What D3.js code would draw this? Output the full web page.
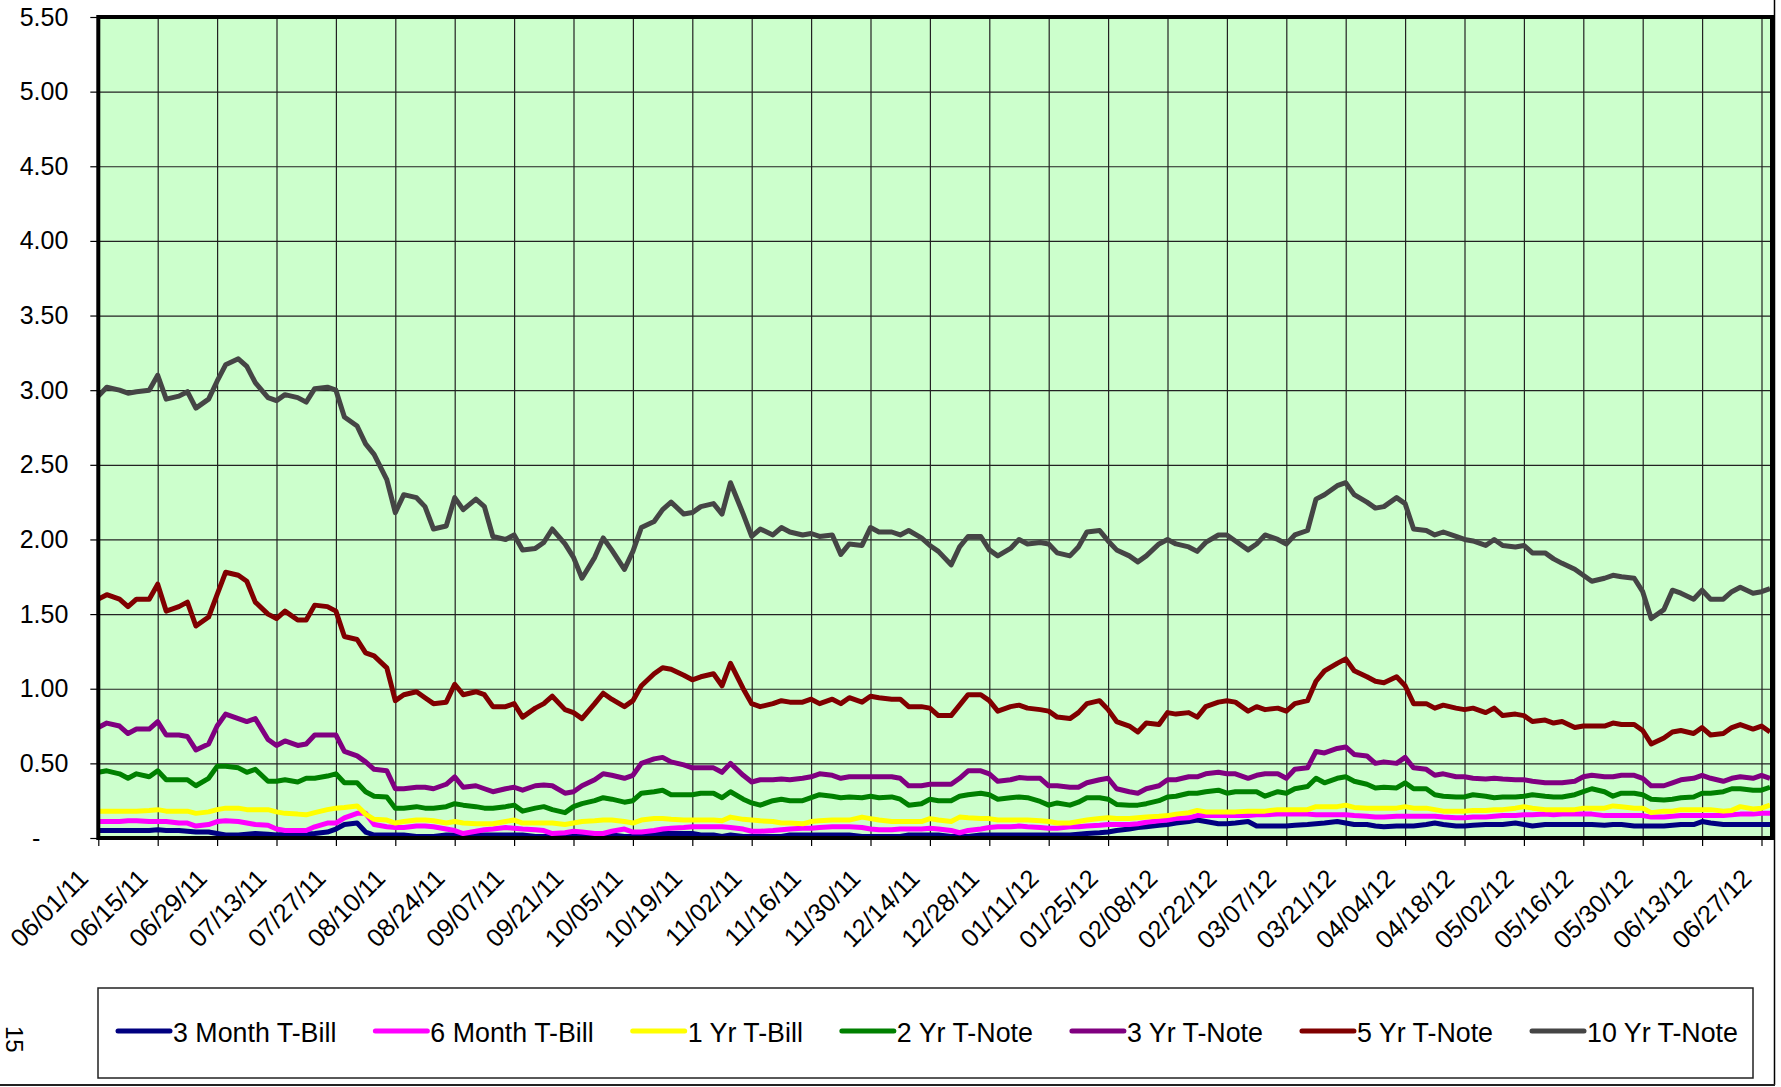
<!DOCTYPE html>
<html>
<head>
<meta charset="utf-8">
<script src="https://cdn.jsdelivr.net/npm/d3@7"></script>
<style>
  body { margin: 0; background: #fff; }
  text { font-family: "Liberation Sans", Arial, sans-serif; fill: #000; }
</style>
</head>
<body>
<svg id="chart" width="1781" height="1087"></svg>
<script>
// sample dates (Mon / Wed / Fri)
const sampleDates = [
  "06/01/11","06/03/11","06/06/11","06/08/11","06/10/11","06/13/11",
  "06/15/11","06/17/11","06/20/11","06/22/11","06/24/11","06/27/11",
  "06/29/11","07/01/11","07/04/11","07/06/11","07/08/11","07/11/11",
  "07/13/11","07/15/11","07/18/11","07/20/11","07/22/11","07/25/11",
  "07/27/11","07/29/11","08/01/11","08/03/11","08/05/11","08/08/11",
  "08/10/11","08/12/11","08/15/11","08/17/11","08/19/11","08/22/11",
  "08/24/11","08/26/11","08/29/11","08/31/11","09/02/11","09/05/11",
  "09/07/11","09/09/11","09/12/11","09/14/11","09/16/11","09/19/11",
  "09/21/11","09/23/11","09/26/11","09/28/11","09/30/11","10/03/11",
  "10/05/11","10/07/11","10/10/11","10/12/11","10/14/11","10/17/11",
  "10/19/11","10/21/11","10/24/11","10/26/11","10/28/11","10/31/11",
  "11/02/11","11/04/11","11/07/11","11/09/11","11/11/11","11/14/11",
  "11/16/11","11/18/11","11/21/11","11/23/11","11/25/11","11/28/11",
  "11/30/11","12/02/11","12/05/11","12/07/11","12/09/11","12/12/11",
  "12/14/11","12/16/11","12/19/11","12/21/11","12/23/11","12/26/11",
  "12/28/11","12/30/11","01/02/12","01/04/12","01/06/12","01/09/12",
  "01/11/12","01/13/12","01/16/12","01/18/12","01/20/12","01/23/12",
  "01/25/12","01/27/12","01/30/12","02/01/12","02/03/12","02/06/12",
  "02/08/12","02/10/12","02/13/12","02/15/12","02/17/12","02/20/12",
  "02/22/12","02/24/12","02/27/12","02/29/12","03/02/12","03/05/12",
  "03/07/12","03/09/12","03/12/12","03/14/12","03/16/12","03/19/12",
  "03/21/12","03/23/12","03/26/12","03/28/12","03/30/12","04/02/12",
  "04/04/12","04/06/12","04/09/12","04/11/12","04/13/12","04/16/12",
  "04/18/12","04/20/12","04/23/12","04/25/12","04/27/12","04/30/12",
  "05/02/12","05/04/12","05/07/12","05/09/12","05/11/12","05/14/12",
  "05/16/12","05/18/12","05/21/12","05/23/12","05/25/12","05/28/12",
  "05/30/12","06/01/12","06/04/12","06/06/12","06/08/12","06/11/12",
  "06/13/12","06/15/12","06/18/12","06/20/12","06/22/12","06/25/12",
  "06/27/12","06/29/12"
];

const tickLabels = [
  "06/01/11","06/15/11","06/29/11","07/13/11","07/27/11","08/10/11","08/24/11",
  "09/07/11","09/21/11","10/05/11","10/19/11","11/02/11","11/16/11","11/30/11",
  "12/14/11","12/28/11","01/11/12","01/25/12","02/08/12","02/22/12","03/07/12",
  "03/21/12","04/04/12","04/18/12","05/02/12","05/16/12","05/30/12","06/13/12",
  "06/27/12"
];

const yTickValues = [0, 0.5, 1, 1.5, 2, 2.5, 3, 3.5, 4, 4.5, 5, 5.5];

const seriesNames = ["3 Month T-Bill", "6 Month T-Bill", "1 Yr T-Bill", "2 Yr T-Note",
                     "3 Yr T-Note", "5 Yr T-Note", "10 Yr T-Note"];
const seriesColors = ["#000080", "#FF00FF", "#FFFF00", "#008000", "#800080", "#800000", "#454545"];

const bill3m = [
  0.05,0.05,0.05,0.05,0.05,0.05, 0.055,0.05,0.05,0.045,0.04,0.04,
  0.03,0.02,0.02,0.025,0.03,0.025, 0.02,0.025,0.03,0.025,0.03,0.04,
  0.06,0.09,0.10,0.04,0.02,0.02, 0.02,0.02,0.01,0.01,0.01,0.02,
  0.02,0.02,0.02,0.02,0.02,0.02, 0.02,0.02,0.01,0.01,0.01,0.01,
  0.01,0.01,0.01,0.01,0.02,0.01, 0.01,0.02,0.02,0.03,0.03,0.03,
  0.03,0.02,0.02,0.01,0.02,0.01, 0.01,0.01,0.01,0.01,0.02,0.02,
  0.02,0.02,0.02,0.02,0.02,0.01, 0.01,0.01,0.01,0.01,0.02,0.02,
  0.02,0.02,0.01,0.01,0.01,0.02, 0.02,0.02,0.02,0.02,0.02,0.02,
  0.02,0.02,0.02,0.025,0.03,0.035, 0.04,0.05,0.06,0.07,0.075,0.085,
  0.09,0.10,0.11,0.12,0.11,0.095, 0.095,0.10,0.11,0.08,0.08,0.08,
  0.08,0.085,0.09,0.095,0.10,0.11, 0.10,0.09,0.09,0.08,0.075,0.08,
  0.08,0.08,0.09,0.10,0.09,0.08, 0.08,0.085,0.09,0.09,0.09,0.10,
  0.09,0.08,0.09,0.09,0.09,0.09, 0.09,0.09,0.085,0.09,0.09,0.08,
  0.08,0.08,0.08,0.085,0.09,0.09, 0.11,0.10,0.09,0.09,0.09,0.09,
  0.09,0.09
];

const bill6m = [
  0.11,0.11,0.11,0.115,0.115,0.11, 0.11,0.11,0.10,0.10,0.08,0.09,
  0.11,0.115,0.11,0.10,0.09,0.085, 0.06,0.05,0.05,0.05,0.075,0.10,
  0.10,0.135,0.165,0.165,0.09,0.075, 0.07,0.07,0.08,0.08,0.075,0.06,
  0.05,0.03,0.045,0.055,0.06,0.07, 0.065,0.06,0.055,0.05,0.03,0.035,
  0.045,0.04,0.03,0.03,0.045,0.06, 0.04,0.04,0.05,0.06,0.065,0.07,
  0.075,0.075,0.075,0.075,0.07,0.06, 0.045,0.045,0.05,0.055,0.06,0.065,
  0.065,0.07,0.075,0.075,0.075,0.07, 0.06,0.055,0.055,0.06,0.06,0.06,
  0.065,0.06,0.05,0.035,0.05,0.06, 0.07,0.075,0.075,0.08,0.075,0.07,
  0.065,0.065,0.075,0.075,0.08,0.085, 0.09,0.09,0.09,0.095,0.105,0.115,
  0.12,0.13,0.135,0.15,0.15,0.15, 0.15,0.15,0.15,0.155,0.155,0.16,
  0.16,0.16,0.16,0.155,0.155,0.155, 0.155,0.15,0.145,0.14,0.14,0.145,
  0.145,0.145,0.145,0.145,0.14,0.135, 0.135,0.14,0.14,0.145,0.15,0.15,
  0.155,0.155,0.16,0.155,0.16,0.16, 0.16,0.16,0.15,0.15,0.15,0.15,
  0.15,0.14,0.14,0.145,0.15,0.15, 0.15,0.15,0.15,0.155,0.16,0.16,
  0.165,0.165
];

const bill1y = [
  0.18,0.18,0.18,0.18,0.18,0.185, 0.19,0.18,0.18,0.18,0.165,0.175,
  0.19,0.20,0.20,0.19,0.19,0.19, 0.175,0.165,0.16,0.155,0.17,0.19,
  0.20,0.205,0.215,0.16,0.125,0.12, 0.10,0.11,0.12,0.12,0.115,0.10,
  0.11,0.10,0.095,0.095,0.095,0.11, 0.12,0.10,0.10,0.10,0.10,0.09,
  0.10,0.11,0.115,0.12,0.12,0.11, 0.10,0.12,0.13,0.13,0.125,0.12,
  0.12,0.12,0.12,0.115,0.14,0.125, 0.12,0.115,0.11,0.10,0.10,0.095,
  0.11,0.115,0.12,0.12,0.12,0.14, 0.13,0.12,0.11,0.11,0.11,0.11,
  0.13,0.12,0.11,0.14,0.135,0.13, 0.13,0.12,0.12,0.12,0.12,0.115,
  0.11,0.10,0.10,0.11,0.12,0.13, 0.135,0.13,0.13,0.135,0.14,0.145,
  0.15,0.16,0.17,0.185,0.175,0.175, 0.175,0.175,0.18,0.18,0.18,0.19,
  0.19,0.19,0.19,0.21,0.21,0.21, 0.22,0.205,0.20,0.20,0.20,0.20,
  0.21,0.20,0.20,0.19,0.18,0.18, 0.18,0.185,0.185,0.19,0.19,0.20,
  0.21,0.20,0.19,0.19,0.19,0.19, 0.20,0.20,0.20,0.215,0.21,0.20,
  0.20,0.17,0.18,0.18,0.19,0.19, 0.19,0.19,0.18,0.185,0.21,0.195,
  0.20,0.22
];

const note2y = [
  0.44,0.45,0.43,0.40,0.43,0.41, 0.45,0.39,0.39,0.39,0.35,0.40,
  0.48,0.48,0.47,0.44,0.46,0.38, 0.38,0.39,0.375,0.40,0.40,0.415,
  0.43,0.37,0.37,0.31,0.28,0.275, 0.20,0.20,0.21,0.20,0.20,0.21,
  0.23,0.22,0.21,0.20,0.20,0.21, 0.22,0.18,0.20,0.21,0.19,0.17,
  0.21,0.23,0.25,0.27,0.26,0.24, 0.25,0.30,0.31,0.32,0.29,0.29,
  0.29,0.30,0.30,0.27,0.31,0.26, 0.235,0.22,0.25,0.26,0.25,0.25,
  0.27,0.29,0.28,0.27,0.275,0.27, 0.28,0.27,0.275,0.26,0.22,0.23,
  0.26,0.25,0.25,0.28,0.29,0.30, 0.29,0.26,0.27,0.275,0.27,0.245,
  0.22,0.235,0.22,0.24,0.27,0.27, 0.26,0.225,0.22,0.22,0.23,0.25,
  0.275,0.28,0.30,0.30,0.31,0.32, 0.30,0.31,0.31,0.31,0.28,0.31,
  0.30,0.33,0.345,0.40,0.37,0.40, 0.41,0.38,0.36,0.335,0.34,0.335,
  0.37,0.33,0.33,0.29,0.28,0.275, 0.275,0.29,0.28,0.27,0.275,0.275,
  0.28,0.29,0.28,0.275,0.275,0.29, 0.31,0.33,0.31,0.28,0.30,0.30,
  0.29,0.26,0.255,0.26,0.27,0.275, 0.30,0.30,0.31,0.33,0.33,0.32,
  0.32,0.34
];

const note3y = [
  0.74,0.77,0.75,0.70,0.73,0.73, 0.78,0.69,0.69,0.68,0.59,0.63,
  0.75,0.83,0.80,0.78,0.80,0.66, 0.62,0.65,0.62,0.63,0.69,0.69,
  0.69,0.58,0.55,0.51,0.46,0.45, 0.33,0.33,0.34,0.34,0.33,0.36,
  0.41,0.34,0.35,0.33,0.31,0.33, 0.34,0.32,0.35,0.355,0.35,0.30,
  0.31,0.35,0.39,0.43,0.42,0.40, 0.42,0.50,0.53,0.54,0.51,0.49,
  0.47,0.47,0.47,0.44,0.50,0.42, 0.375,0.39,0.39,0.395,0.39,0.40,
  0.41,0.43,0.42,0.40,0.41,0.41, 0.41,0.41,0.41,0.40,0.35,0.35,
  0.36,0.36,0.36,0.40,0.45,0.45, 0.43,0.38,0.39,0.405,0.40,0.40,
  0.35,0.35,0.34,0.34,0.37,0.39, 0.40,0.33,0.31,0.30,0.33,0.35,
  0.39,0.39,0.41,0.41,0.43,0.44, 0.43,0.43,0.40,0.42,0.43,0.43,
  0.40,0.46,0.47,0.58,0.57,0.60, 0.61,0.56,0.55,0.50,0.51,0.50,
  0.54,0.47,0.46,0.42,0.43,0.41, 0.41,0.40,0.395,0.40,0.395,0.39,
  0.39,0.38,0.37,0.37,0.37,0.38, 0.41,0.42,0.41,0.41,0.42,0.42,
  0.40,0.35,0.35,0.37,0.39,0.40, 0.42,0.40,0.38,0.40,0.41,0.40,
  0.42,0.40
];

const note5y = [
  1.60,1.63,1.60,1.55,1.60,1.60, 1.70,1.52,1.55,1.58,1.42,1.48,
  1.63,1.78,1.76,1.72,1.58,1.50, 1.47,1.52,1.46,1.46,1.56,1.55,
  1.52,1.35,1.33,1.24,1.22,1.14, 0.92,0.96,0.98,0.94,0.90,0.91,
  1.03,0.96,0.98,0.96,0.88,0.88, 0.90,0.81,0.87,0.90,0.95,0.86,
  0.84,0.80,0.90,0.97,0.93,0.88, 0.92,1.02,1.10,1.14,1.13,1.09,
  1.06,1.08,1.10,1.02,1.17,1.00, 0.90,0.88,0.90,0.92,0.91,0.91,
  0.93,0.90,0.93,0.90,0.94,0.91, 0.95,0.94,0.93,0.93,0.88,0.88,
  0.87,0.82,0.82,0.89,0.96,0.96, 0.92,0.85,0.88,0.89,0.87,0.86,
  0.85,0.81,0.80,0.84,0.90,0.92, 0.86,0.78,0.75,0.71,0.77,0.76,
  0.84,0.83,0.84,0.81,0.88,0.91, 0.92,0.91,0.85,0.88,0.86,0.87,
  0.85,0.90,0.92,1.05,1.12,1.17, 1.20,1.12,1.08,1.05,1.04,1.08,
  1.02,0.90,0.90,0.87,0.89,0.87, 0.86,0.87,0.84,0.87,0.82,0.83,
  0.82,0.78,0.79,0.77,0.78,0.74, 0.75,0.75,0.75,0.77,0.76,0.76,
  0.72,0.63,0.67,0.71,0.72,0.70, 0.74,0.69,0.70,0.74,0.76,0.73,
  0.75,0.71
];

const note10y = [
  2.96,3.02,3.00,2.98,2.99,3.00, 3.10,2.94,2.96,2.99,2.88,2.94,
  3.06,3.17,3.21,3.16,3.05,2.95, 2.93,2.97,2.95,2.92,3.01,3.02,
  3.00,2.82,2.76,2.64,2.57,2.40, 2.18,2.30,2.28,2.22,2.07,2.09,
  2.28,2.20,2.27,2.22,2.02,2.00, 2.03,1.93,1.94,1.98,2.07,1.97,
  1.88,1.74,1.88,2.01,1.93,1.80, 1.92,2.08,2.12,2.20,2.25,2.17,
  2.18,2.22,2.24,2.17,2.38,2.17, 2.02,2.07,2.03,2.08,2.05,2.03,
  2.04,2.02,2.03,1.90,1.97,1.96, 2.08,2.05,2.05,2.03,2.06,2.01,
  1.96,1.92,1.83,1.95,2.02,2.02, 1.93,1.89,1.94,2.00,1.97,1.98,
  1.97,1.91,1.89,1.95,2.05,2.06, 1.99,1.93,1.89,1.85,1.89,1.97,
  2.00,1.97,1.95,1.92,1.98,2.03, 2.03,1.99,1.93,1.97,2.03,2.00,
  1.97,2.03,2.06,2.27,2.30,2.36, 2.38,2.30,2.25,2.21,2.22,2.28,
  2.24,2.07,2.06,2.03,2.05,2.02, 2.00,1.99,1.96,2.00,1.96,1.95,
  1.96,1.91,1.91,1.87,1.84,1.80, 1.76,1.72,1.74,1.76,1.75,1.74,
  1.65,1.47,1.53,1.66,1.64,1.60, 1.66,1.60,1.60,1.65,1.68,1.64,
  1.65,1.67
];

const seriesValues = [bill3m, bill6m, bill1y, note2y, note3y, note5y, note10y];

const parseDate = d3.utcParse("%m/%d/%y");
const dates = sampleDates.map(parseDate);

const svg = d3.select("#chart");
const width = 1781, height = 1087;
const plot = { left: 98.3, right: 1772, top: 17, bottom: 838 };

const x = d3.scaleUtc()
  .domain([parseDate("06/01/11"), parseDate("06/27/12")])
  .range([98.3, 1761.5]);
const y = d3.scaleLinear().domain([0, 5.5]).range([plot.bottom, plot.top]);

svg.append("rect").attr("width", width).attr("height", height).attr("fill", "#fff");

// plot area
svg.append("rect")
  .attr("x", plot.left).attr("y", plot.top)
  .attr("width", plot.right - plot.left).attr("height", plot.bottom - plot.top)
  .attr("fill", "#CCFFCC");

// horizontal grid
svg.append("g")
  .attr("transform", `translate(${plot.left},0)`)
  .call(d3.axisLeft(y).tickValues(yTickValues).tickSize(-(plot.right - plot.left)).tickFormat(""))
  .call(g => g.select(".domain").remove())
  .selectAll("line").attr("stroke", "#222").attr("stroke-width", 1.2);

// vertical grid
const tickDates = tickLabels.map(parseDate);
svg.append("g")
  .attr("transform", `translate(0,${plot.bottom})`)
  .call(d3.axisBottom(x).tickValues(tickDates).tickSize(-(plot.bottom - plot.top)).tickFormat(""))
  .call(g => g.select(".domain").remove())
  .selectAll("line").attr("stroke", "#222").attr("stroke-width", 1.2);

// y axis
const yAxis = svg.append("g")
  .attr("transform", `translate(${plot.left},0)`)
  .call(d3.axisLeft(y).tickValues(yTickValues).tickSize(8).tickPadding(22)
    .tickFormat(d => d === 0 ? "-" : d3.format(".2f")(d)));
yAxis.select(".domain").remove();
yAxis.selectAll("line").attr("stroke", "#000").attr("stroke-width", 1.2);
yAxis.selectAll("text")
  .attr("font-size", 25)
  .attr("font-family", "Liberation Sans, Arial, sans-serif")
  .attr("dx", d => d === 0 ? -28 : 0);

// x axis
const xAxis = svg.append("g")
  .attr("transform", `translate(0,${plot.bottom})`)
  .call(d3.axisBottom(x).tickValues(tickDates).tickSize(8)
    .tickFormat(d3.utcFormat("%m/%d/%y")));
xAxis.select(".domain").remove();
xAxis.selectAll("line").attr("stroke", "#000").attr("stroke-width", 1.2);
xAxis.selectAll("text")
  .attr("font-size", 25.5)
  .attr("font-family", "Liberation Sans, Arial, sans-serif")
  .attr("text-anchor", "end")
  .attr("dy", null)
  .attr("y", 0)
  .attr("transform", "translate(-9,42) rotate(-45)");

// series
const line = d3.line()
  .x((d, i) => x(dates[i]))
  .y(d => y(d));

svg.append("g").selectAll("path")
  .data(seriesValues)
  .join("path")
  .attr("d", d => line(d))
  .attr("fill", "none")
  .attr("stroke", (d, i) => seriesColors[i])
  .attr("stroke-width", 5)
  .attr("stroke-linejoin", "round");

// plot border
svg.append("rect")
  .attr("x", plot.left).attr("y", plot.top)
  .attr("width", plot.right - plot.left).attr("height", plot.bottom - plot.top)
  .attr("fill", "none").attr("stroke", "#000").attr("stroke-width", 4);

// legend
const legendBox = { left: 98, top: 988, right: 1753, bottom: 1078 };
svg.append("rect")
  .attr("x", legendBox.left).attr("y", legendBox.top)
  .attr("width", legendBox.right - legendBox.left)
  .attr("height", legendBox.bottom - legendBox.top)
  .attr("fill", "#fff").attr("stroke", "#222").attr("stroke-width", 1.5);

let lx = 118;
seriesNames.forEach((name, i) => {
  const g = svg.append("g");
  g.append("line")
    .attr("x1", lx).attr("x2", lx + 52)
    .attr("y1", 1031).attr("y2", 1031)
    .attr("stroke", seriesColors[i]).attr("stroke-width", 5)
    .attr("stroke-linecap", "round");
  const t = g.append("text")
    .attr("x", lx + 55).attr("y", 1042)
    .attr("font-size", 26.8)
    .text(name);
  lx = lx + 55 + t.node().getComputedTextLength() + 39;
});

// page frame
svg.append("line").attr("x1", 1774.5).attr("x2", 1774.5).attr("y1", 0).attr("y2", 1085)
  .attr("stroke", "#000").attr("stroke-width", 1.5);
svg.append("line").attr("x1", 0).attr("x2", 1775).attr("y1", 1085).attr("y2", 1085)
  .attr("stroke", "#222").attr("stroke-width", 2);

svg.append("text")
  .attr("transform", "translate(6,1026) rotate(90)")
  .attr("font-size", 24)
  .text("15");
</script>
</body>
</html>
